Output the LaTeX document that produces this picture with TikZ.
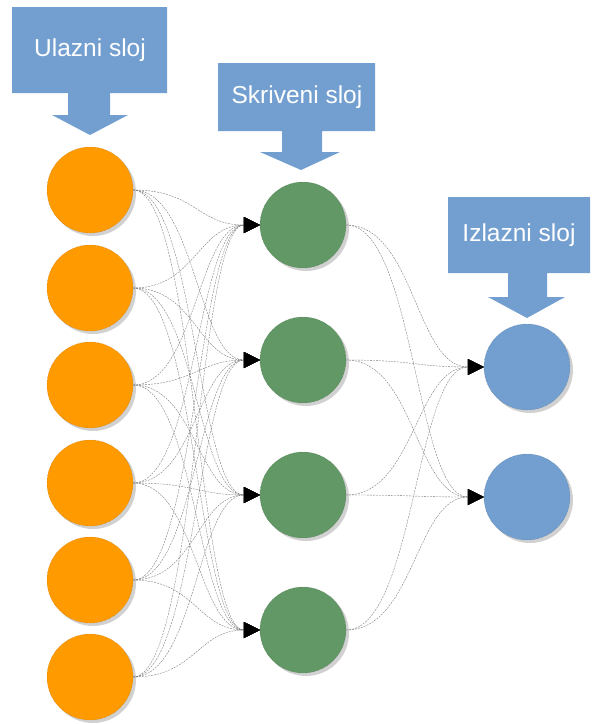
\documentclass[tikz,border=0pt]{standalone}
\usepackage{fontspec}
\setmainfont{Liberation Sans}
\usetikzlibrary{arrows.meta,shadows}
\definecolor{inorange}{HTML}{FF9A00}
\definecolor{hidgreen}{HTML}{629866}
\definecolor{outblue}{HTML}{729FCF}
\tikzset{
  neuron/.style={circle, minimum size=86pt, inner sep=0pt, fill=#1, draw=#1!70!black, densely dotted, line width=0.4pt,
    drop shadow={shadow xshift=3pt, shadow yshift=-3pt, fill=black!18, opacity=1}},
  callout/.style={fill=outblue, draw=none},
  label/.style={text=white, font=\fontsize{24.5}{28}\selectfont, inner sep=0pt},
  conn/.style={draw=black!55, dashed, dash pattern=on 2pt off 1pt, line width=0.35pt,
    -{Triangle[length=16pt,width=16pt,fill=black,color=black,line width=0pt]}},
}
\begin{document}
\begin{tikzpicture}[x=1pt,y=-1pt]
\useasboundingbox (0,0) rectangle (595,724);
% callouts
\path[callout] (12,7) -- (167,7) -- (167,93) -- (110,93) -- (110,115) -- (128,115) -- (90,135) -- (52,115) -- (68,115) -- (68,93) -- (12,93) -- cycle;
\path[callout] (218,63) -- (375,63) -- (375,131) -- (322,131) -- (322,152) -- (340,152) -- (301,170) -- (260,152) -- (282,152) -- (282,131) -- (218,131) -- cycle;
\path[callout] (448,197) -- (590,197) -- (590,273) -- (547,273) -- (547,297) -- (565,297) -- (527,318) -- (488,297) -- (508,297) -- (508,273) -- (448,273) -- cycle;
\node[label] (t1) at (90,50) {Ulazni sloj};
\node[label] (t2) at (297,97) {Skriveni sloj};
\node[label] (t3) at (519,235) {Izlazni sloj};
% neurons
\foreach \i/\y in {1/190,2/288,3/385,4/483,5/580,6/677}
  \node[neuron=inorange] (i\i) at (90,\y) {};
\foreach \i/\y in {1/225,2/360,3/495,4/630}
  \node[neuron=hidgreen] (h\i) at (303,\y) {};
\foreach \i/\y in {1/367,2/497}
  \node[neuron=outblue] (o\i) at (527,\y) {};
% connections
\foreach \a in {1,...,6}
  \foreach \b in {1,...,4}
    \draw[conn] (i\a.east) .. controls +(62,0) and +(-62,0) .. (h\b.west);
\foreach \a in {1,...,4}
  \foreach \b in {1,2}
    \draw[conn] (h\a.east) .. controls +(68,0) and +(-68,0) .. (o\b.west);
\end{tikzpicture}
\end{document}
